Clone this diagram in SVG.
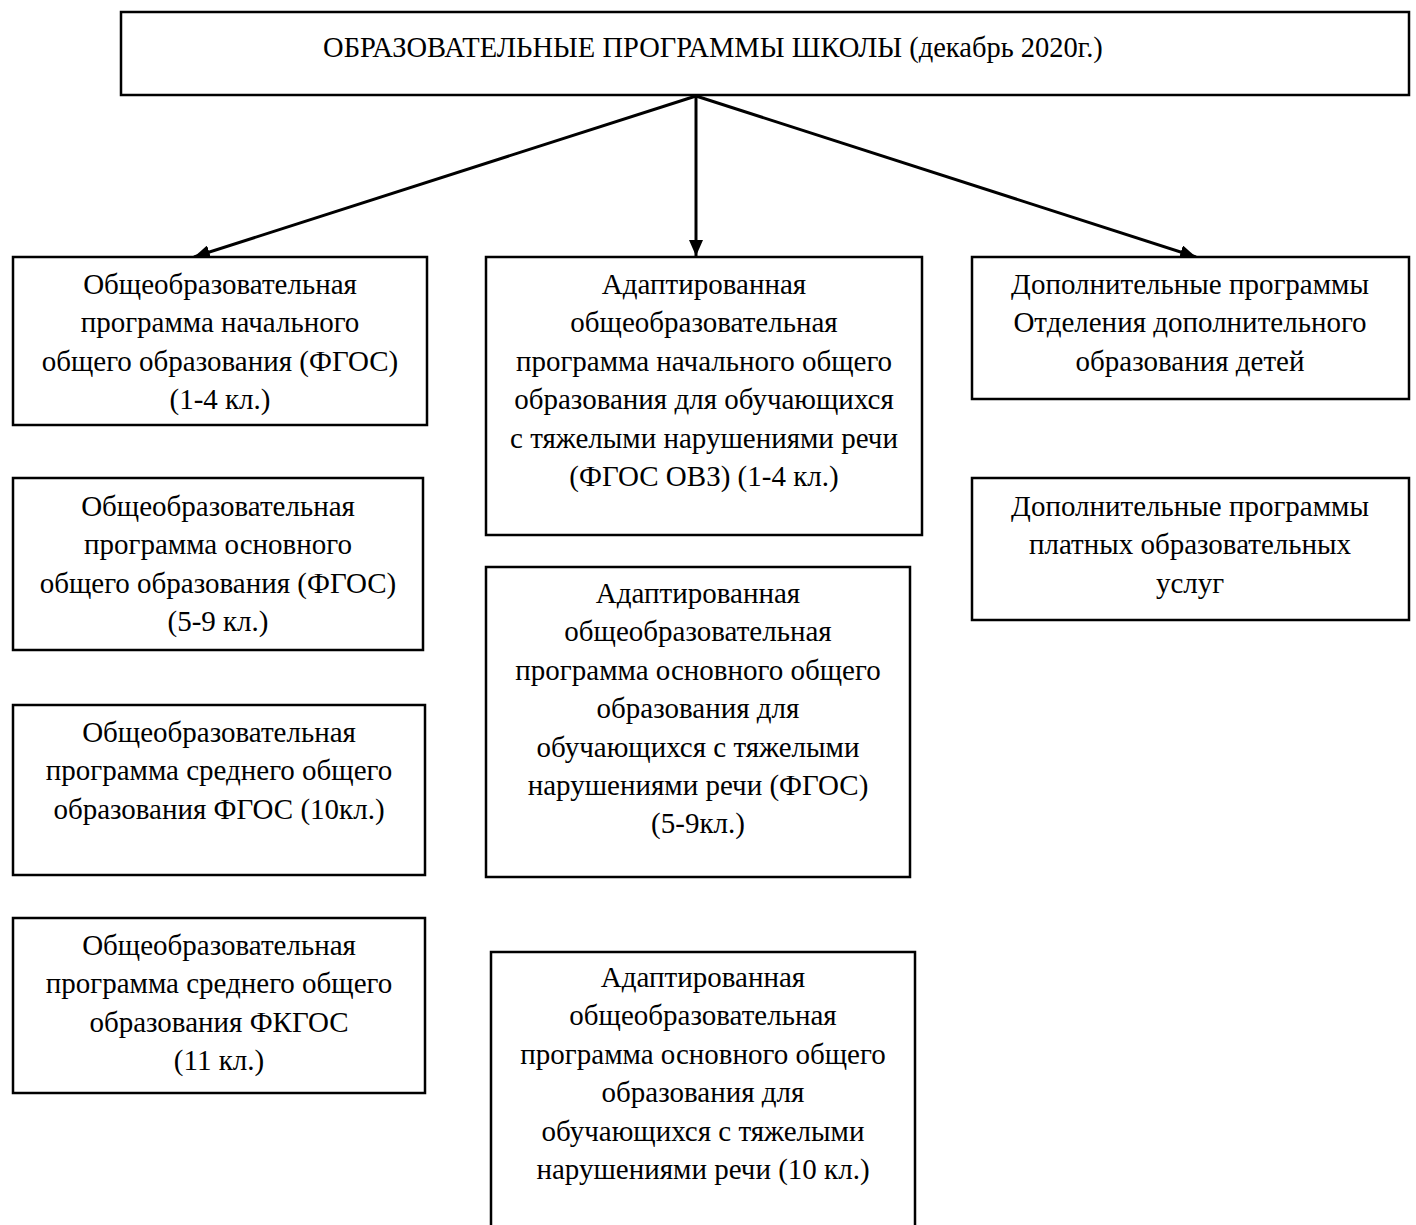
<svg xmlns="http://www.w3.org/2000/svg" width="1416" height="1225" viewBox="0 0 1416 1225">
<style>
.box{fill:#fff;stroke:#000;stroke-width:2.5}
.t{font-family:"Liberation Serif","Times New Roman",serif;font-size:29px;fill:#000;text-anchor:middle}
.title{font-size:28.5px}
.conn{stroke:#000;stroke-width:3;fill:none}
</style>
<defs>
<marker id="ah" markerUnits="userSpaceOnUse" markerWidth="18" markerHeight="14" refX="16" refY="7" orient="auto">
<path d="M0,0 L16,7 L0,14 z" fill="#000"/>
</marker>
</defs>
<rect width="1416" height="1225" fill="#fff"/>
<g id="connectors">
<line class="conn" x1="696" y1="96" x2="194" y2="257" marker-end="url(#ah)"/>
<line class="conn" x1="696" y1="96" x2="696" y2="256" marker-end="url(#ah)"/>
<line class="conn" x1="696" y1="96" x2="1196" y2="257" marker-end="url(#ah)"/>
</g>
<g id="root">
<rect class="box" x="121" y="12" width="1288" height="83"/>
<text class="t title" x="713" y="57">ОБРАЗОВАТЕЛЬНЫЕ ПРОГРАММЫ ШКОЛЫ (декабрь 2020г.)</text>
</g>
<g id="n-l1">
<rect class="box" x="13" y="257" width="414" height="168"/>
<text class="t" x="220" y="294">Общеобразовательная</text>
<text class="t" x="220" y="332">программа начального</text>
<text class="t" x="220" y="371">общего образования (ФГОС)</text>
<text class="t" x="220" y="409">(1-4 кл.)</text>
</g>
<g id="n-l2">
<rect class="box" x="13" y="478" width="410" height="172"/>
<text class="t" x="218" y="516">Общеобразовательная</text>
<text class="t" x="218" y="554">программа основного</text>
<text class="t" x="218" y="593">общего образования (ФГОС)</text>
<text class="t" x="218" y="631">(5-9 кл.)</text>
</g>
<g id="n-l3">
<rect class="box" x="13" y="705" width="412" height="170"/>
<text class="t" x="219" y="742">Общеобразовательная</text>
<text class="t" x="219" y="780">программа среднего общего</text>
<text class="t" x="219" y="819">образования ФГОС (10кл.)</text>
</g>
<g id="n-l4">
<rect class="box" x="13" y="918" width="412" height="175"/>
<text class="t" x="219" y="955">Общеобразовательная</text>
<text class="t" x="219" y="993">программа среднего общего</text>
<text class="t" x="219" y="1032">образования ФКГОС</text>
<text class="t" x="219" y="1070">(11 кл.)</text>
</g>
<g id="n-m1">
<rect class="box" x="486" y="257" width="436" height="278"/>
<text class="t" x="704" y="294">Адаптированная</text>
<text class="t" x="704" y="332">общеобразовательная</text>
<text class="t" x="704" y="371">программа начального общего</text>
<text class="t" x="704" y="409">образования для обучающихся</text>
<text class="t" x="704" y="448">с тяжелыми нарушениями речи</text>
<text class="t" x="704" y="486">(ФГОС ОВЗ) (1-4 кл.)</text>
</g>
<g id="n-m2">
<rect class="box" x="486" y="567" width="424" height="310"/>
<text class="t" x="698" y="603">Адаптированная</text>
<text class="t" x="698" y="641">общеобразовательная</text>
<text class="t" x="698" y="680">программа основного общего</text>
<text class="t" x="698" y="718">образования для</text>
<text class="t" x="698" y="757">обучающихся с тяжелыми</text>
<text class="t" x="698" y="795">нарушениями речи (ФГОС)</text>
<text class="t" x="698" y="833">(5-9кл.)</text>
</g>
<g id="n-m3">
<rect class="box" x="491" y="952" width="424" height="290"/>
<text class="t" x="703" y="987">Адаптированная</text>
<text class="t" x="703" y="1025">общеобразовательная</text>
<text class="t" x="703" y="1064">программа основного общего</text>
<text class="t" x="703" y="1102">образования для</text>
<text class="t" x="703" y="1141">обучающихся с тяжелыми</text>
<text class="t" x="703" y="1179">нарушениями речи (10 кл.)</text>
</g>
<g id="n-r1">
<rect class="box" x="972" y="257" width="437" height="142"/>
<text class="t" x="1190" y="294">Дополнительные программы</text>
<text class="t" x="1190" y="332">Отделения дополнительного</text>
<text class="t" x="1190" y="371">образования детей</text>
</g>
<g id="n-r2">
<rect class="box" x="972" y="478" width="437" height="142"/>
<text class="t" x="1190" y="516">Дополнительные программы</text>
<text class="t" x="1190" y="554">платных образовательных</text>
<text class="t" x="1190" y="593">услуг</text>
</g>
</svg>
